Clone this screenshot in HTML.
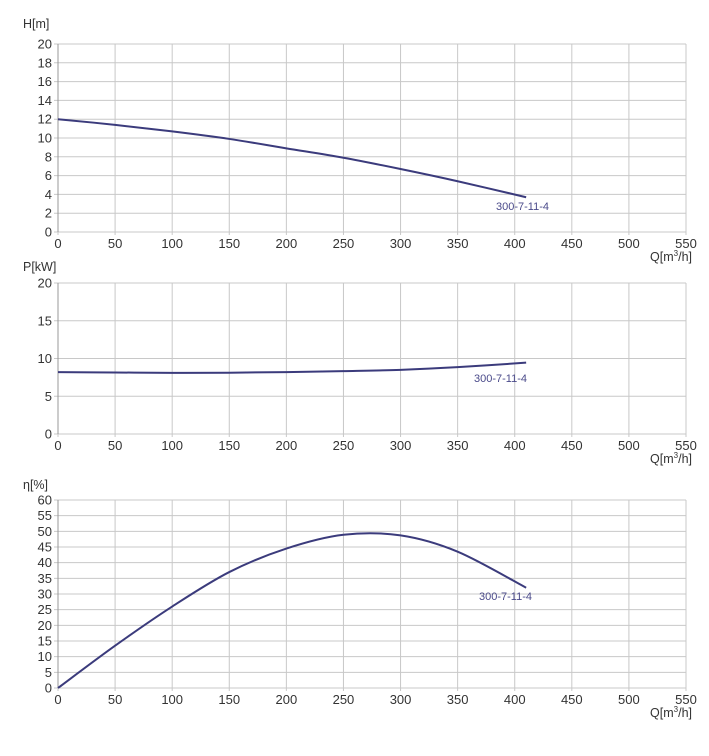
<!DOCTYPE html>
<html><head><meta charset="utf-8"><style>
body{margin:0;background:#fff;}
svg text{font-family:"Liberation Sans",sans-serif;fill:#333;}
</style></head><body>
<svg id="c" width="709" height="751" xmlns="http://www.w3.org/2000/svg"></svg>
<script>
const qTicks=[0,50,100,150,200,250,300,350,400,450,500,550];
const hQ=[0,50,100,150,200,250,300,350,410];
const hVals=[12,11.4,10.7,9.9,8.9,7.9,6.7,5.4,3.7];
const pQ=[0,50,100,150,200,250,300,350,410];
const pVals=[8.2,8.15,8.1,8.12,8.2,8.33,8.5,8.85,9.45];
const eQ=[0,50,100,150,200,250,300,350,410];
const eVals=[0,13.5,26,37,44.5,48.9,48.7,43.5,32];
const hTicks=[0,2,4,6,8,10,12,14,16,18,20];
const pTicks=[0,5,10,15,20];
const eTicks=[0,5,10,15,20,25,30,35,40,45,50,55,60];
const NS="http://www.w3.org/2000/svg";
const svg=document.getElementById('c');
function el(t,a,p){const e=document.createElementNS(NS,t);for(const k in a)e.setAttribute(k,a[k]);(p||svg).appendChild(e);return e;}
const X0=58,X1=686;
const xs=q=>X0+(q-0)/550*(X1-X0);
function panel(id,top,bot,ymax,ticks,title,titleY,qs,vals,lab){
  const g=el('g',{});
  
  
  const ys=v=>bot-(v/ymax)*(bot-top);
  ticks.forEach(t=>{
    const l=el('line',{x1:X0-4,x2:X1,y1:ys(t),y2:ys(t),stroke:'#c8c8c8','stroke-width':1},g);
    
    
    const tx=el('text',{x:X0-6,y:ys(t)+4.5,'text-anchor':'end','font-size':13},g);
    tx.textContent=t;
    
    
  });
  qTicks.forEach(q=>{
    const l=el('line',{x1:xs(q),x2:xs(q),y1:top,y2:bot+3,stroke:'#c8c8c8','stroke-width':1},g);
    
    
    const tx=el('text',{x:xs(q),y:bot+16,'text-anchor':'middle','font-size':13},g);
    tx.textContent=q;
    
    
  });
  const ax=el('line',{x1:X0,x2:X0,y1:top,y2:bot,stroke:'#999','stroke-width':1},g);
  
  
  const tt=el('text',{x:X0-35,y:titleY,'font-size':12.5},g);
  tt.textContent=title;
  
  
  const xt=el('text',{x:692,y:bot+29,'text-anchor':'end','font-size':12.5},g);
  xt.innerHTML='Q[m<tspan font-size="8" dy="-5">3</tspan><tspan dy="5">/h]</tspan>';
  
  
  const pts=qs.map((q,i)=>[xs(q),ys(vals[i])]);
  let d='M'+pts[0][0]+','+pts[0][1];
  for(let i=0;i<pts.length-1;i++){
    const p0=pts[Math.max(0,i-1)],p1=pts[i],p2=pts[i+1],p3=pts[Math.min(pts.length-1,i+2)];
    d+=' C'+(p1[0]+(p2[0]-p0[0])/6)+','+(p1[1]+(p2[1]-p0[1])/6)+' '+(p2[0]-(p3[0]-p1[0])/6)+','+(p2[1]-(p3[1]-p1[1])/6)+' '+p2[0]+','+p2[1];
  }
  const path=el('path',{d:d,fill:'none',stroke:'#3b3b7c','stroke-width':2},g);
  
  
  const lt=el('text',{x:lab[0],y:lab[1],'text-anchor':'end','font-size':11},g);
  lt.textContent='300-7-11-4';
  lt.style.fill='#4a4a8a';
  
  
}
panel('head',44,232,20,hTicks,'H[m]',28,hQ,hVals,[549,210]);
panel('power',283,434,20,pTicks,'P[kW]',271,pQ,pVals,[527,382]);
panel('efficiency',500,688,60,eTicks,'η[%]',489,eQ,eVals,[532,600]);
</script>
</body></html>
